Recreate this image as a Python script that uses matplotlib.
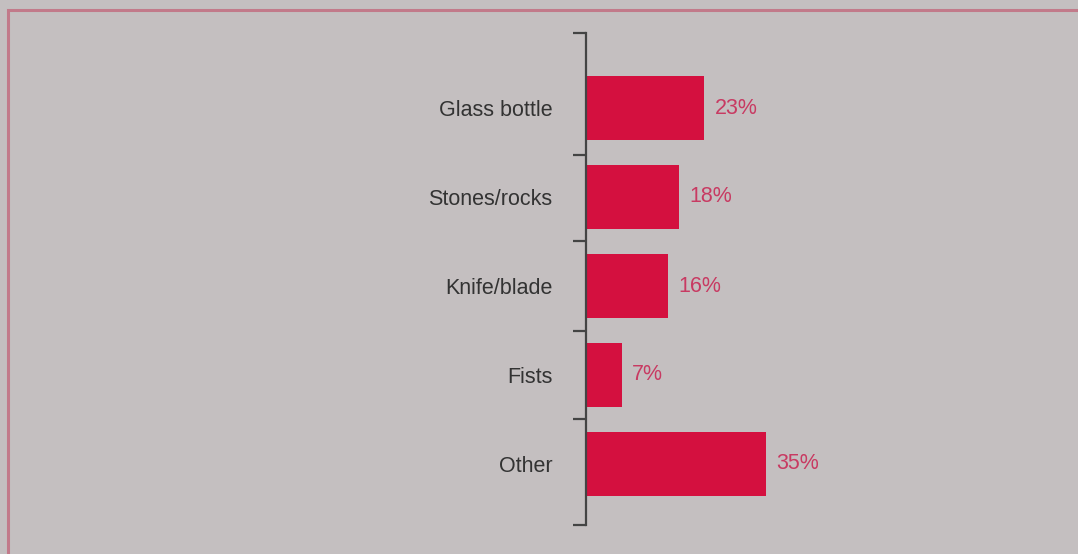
import matplotlib.pyplot as plt
from matplotlib.patches import Rectangle

# weapon types and shares (%)
categories = ['Glass bottle', 'Stones/rocks', 'Knife/blade', 'Fists', 'Other']
values = [23, 18, 16, 7, 35]
value_labels = ['23%', '18%', '16%', '7%', '35%']

bg = '#c4bfc0'
bar_color = '#d4103f'
label_color = '#c83a62'

plt.rcParams['font.family'] = ['Liberation Sans', 'DejaVu Sans']

fig = plt.figure(figsize=(10.78, 5.54), dpi=100, facecolor=bg)

# thin pink frame around the panel
fig.patches.append(Rectangle((8 / 1078, -0.05), 1.1, 1 - 10 / 554 + 0.05,
                             transform=fig.transFigure, fill=False,
                             edgecolor='#c27a8a', linewidth=2.2))

ax = fig.add_axes([586 / 1078, 1 - 525 / 554, 1 - 586 / 1078, (525 - 33) / 554])
ax.set_facecolor('none')

y = list(range(len(categories)))
ax.barh(y, values, height=0.72, color=bar_color, left=0)

for yi, v, lab in zip(y, values, value_labels):
    ax.text(v + 2.0, yi, lab, va='center', ha='left', fontsize=15.5,
            color=label_color)

ax.set_xlim(0, (1078 - 586) / 5.15)
ylo, yhi = -75 / 89, 4 + 61 / 89
ax.set_ylim(yhi, ylo)

ax.set_yticks(y)
ax.set_yticklabels(categories, fontsize=15.5, color='#333333')
ax.tick_params(axis='y', which='major', length=0, pad=24)
ax.set_yticks([ylo, 0.53, 1.5, 2.5, 3.5, yhi], minor=True)
ax.tick_params(axis='y', which='minor', length=9.5, width=1.6, color='#444444')
ax.set_xticks([])

for s in ['top', 'right', 'bottom']:
    ax.spines[s].set_visible(False)
ax.spines['left'].set_color('#444444')
ax.spines['left'].set_linewidth(1.6)

fig.savefig('out.png', dpi=100, facecolor=bg)
